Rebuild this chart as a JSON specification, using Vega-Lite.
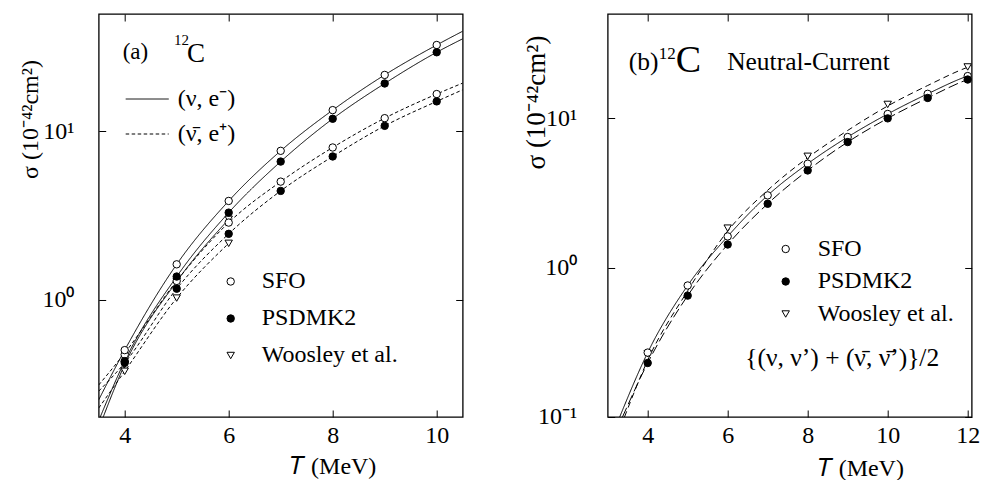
{
  "$schema": "https://vega.github.io/schema/vega-lite/v6.json",
  "padding": {"left": 17.7, "top": 12, "right": 5, "bottom": 0},
  "background": "white",
  "spacing": 145,
  "bounds": "flush",
  "resolve": {"scale": {"strokeDash": "independent", "shape": "independent", "fill": "independent", "stroke": "independent"}},
  "datasets": {
    "curvesA": [
      {"T": 3.5, "sigma": 0.253, "model": "SFO", "reaction": "(ν, e⁻)"},
      {"T": 4, "sigma": 0.50, "model": "SFO", "reaction": "(ν, e⁻)"},
      {"T": 5, "sigma": 1.62, "model": "SFO", "reaction": "(ν, e⁻)"},
      {"T": 6, "sigma": 3.86, "model": "SFO", "reaction": "(ν, e⁻)"},
      {"T": 7, "sigma": 7.67, "model": "SFO", "reaction": "(ν, e⁻)"},
      {"T": 8, "sigma": 13.4, "model": "SFO", "reaction": "(ν, e⁻)"},
      {"T": 9, "sigma": 21.7, "model": "SFO", "reaction": "(ν, e⁻)"},
      {"T": 10, "sigma": 32.7, "model": "SFO", "reaction": "(ν, e⁻)"},
      {"T": 10.5, "sigma": 39.5, "model": "SFO", "reaction": "(ν, e⁻)"},
      {"T": 3.5, "sigma": 0.19, "model": "PSDMK2", "reaction": "(ν, e⁻)"},
      {"T": 4, "sigma": 0.43, "model": "PSDMK2", "reaction": "(ν, e⁻)"},
      {"T": 5, "sigma": 1.37, "model": "PSDMK2", "reaction": "(ν, e⁻)"},
      {"T": 6, "sigma": 3.29, "model": "PSDMK2", "reaction": "(ν, e⁻)"},
      {"T": 7, "sigma": 6.62, "model": "PSDMK2", "reaction": "(ν, e⁻)"},
      {"T": 8, "sigma": 11.9, "model": "PSDMK2", "reaction": "(ν, e⁻)"},
      {"T": 9, "sigma": 19.3, "model": "PSDMK2", "reaction": "(ν, e⁻)"},
      {"T": 10, "sigma": 29.6, "model": "PSDMK2", "reaction": "(ν, e⁻)"},
      {"T": 10.5, "sigma": 35.6, "model": "PSDMK2", "reaction": "(ν, e⁻)"},
      {"T": 3.5, "sigma": 0.17, "model": "Woosley", "reaction": "(ν, e⁻)"},
      {"T": 4, "sigma": 0.41, "model": "Woosley", "reaction": "(ν, e⁻)"},
      {"T": 5, "sigma": 1.28, "model": "Woosley", "reaction": "(ν, e⁻)"},
      {"T": 6, "sigma": 3.0, "model": "Woosley", "reaction": "(ν, e⁻)"},
      {"T": 3.5, "sigma": 0.31, "model": "SFO", "reaction": "(ν̄, e⁺)"},
      {"T": 4, "sigma": 0.48, "model": "SFO", "reaction": "(ν̄, e⁺)"},
      {"T": 5, "sigma": 1.29, "model": "SFO", "reaction": "(ν̄, e⁺)"},
      {"T": 6, "sigma": 2.87, "model": "SFO", "reaction": "(ν̄, e⁺)"},
      {"T": 7, "sigma": 5.03, "model": "SFO", "reaction": "(ν̄, e⁺)"},
      {"T": 8, "sigma": 8.03, "model": "SFO", "reaction": "(ν̄, e⁺)"},
      {"T": 9, "sigma": 12.0, "model": "SFO", "reaction": "(ν̄, e⁺)"},
      {"T": 10, "sigma": 16.7, "model": "SFO", "reaction": "(ν̄, e⁺)"},
      {"T": 10.5, "sigma": 19.4, "model": "SFO", "reaction": "(ν̄, e⁺)"},
      {"T": 3.5, "sigma": 0.285, "model": "PSDMK2", "reaction": "(ν̄, e⁺)"},
      {"T": 4, "sigma": 0.42, "model": "PSDMK2", "reaction": "(ν̄, e⁺)"},
      {"T": 5, "sigma": 1.16, "model": "PSDMK2", "reaction": "(ν̄, e⁺)"},
      {"T": 6, "sigma": 2.46, "model": "PSDMK2", "reaction": "(ν̄, e⁺)"},
      {"T": 7, "sigma": 4.43, "model": "PSDMK2", "reaction": "(ν̄, e⁺)"},
      {"T": 8, "sigma": 7.10, "model": "PSDMK2", "reaction": "(ν̄, e⁺)"},
      {"T": 9, "sigma": 10.8, "model": "PSDMK2", "reaction": "(ν̄, e⁺)"},
      {"T": 10, "sigma": 15.1, "model": "PSDMK2", "reaction": "(ν̄, e⁺)"},
      {"T": 10.5, "sigma": 17.7, "model": "PSDMK2", "reaction": "(ν̄, e⁺)"},
      {"T": 3.5, "sigma": 0.226, "model": "Woosley", "reaction": "(ν̄, e⁺)"},
      {"T": 4, "sigma": 0.374, "model": "Woosley", "reaction": "(ν̄, e⁺)"},
      {"T": 5, "sigma": 1.02, "model": "Woosley", "reaction": "(ν̄, e⁺)"},
      {"T": 6, "sigma": 2.16, "model": "Woosley", "reaction": "(ν̄, e⁺)"}
    ],
    "pointsA": [
      {"T": 4, "sigma": 0.41, "model": "Woosley"},
      {"T": 5, "sigma": 1.28, "model": "Woosley"},
      {"T": 6, "sigma": 3.0, "model": "Woosley"},
      {"T": 4, "sigma": 0.374, "model": "Woosley"},
      {"T": 5, "sigma": 1.02, "model": "Woosley"},
      {"T": 6, "sigma": 2.16, "model": "Woosley"},
      {"T": 4, "sigma": 0.47, "model": "SFO"},
      {"T": 5, "sigma": 1.29, "model": "SFO"},
      {"T": 6, "sigma": 2.87, "model": "SFO"},
      {"T": 7, "sigma": 5.03, "model": "SFO"},
      {"T": 8, "sigma": 8.03, "model": "SFO"},
      {"T": 9, "sigma": 12.0, "model": "SFO"},
      {"T": 10, "sigma": 16.7, "model": "SFO"},
      {"T": 4, "sigma": 0.50, "model": "SFO"},
      {"T": 5, "sigma": 1.62, "model": "SFO"},
      {"T": 6, "sigma": 3.86, "model": "SFO"},
      {"T": 7, "sigma": 7.67, "model": "SFO"},
      {"T": 8, "sigma": 13.4, "model": "SFO"},
      {"T": 9, "sigma": 21.7, "model": "SFO"},
      {"T": 10, "sigma": 32.7, "model": "SFO"},
      {"T": 4, "sigma": 0.42, "model": "PSDMK2"},
      {"T": 5, "sigma": 1.16, "model": "PSDMK2"},
      {"T": 6, "sigma": 2.46, "model": "PSDMK2"},
      {"T": 7, "sigma": 4.43, "model": "PSDMK2"},
      {"T": 8, "sigma": 7.10, "model": "PSDMK2"},
      {"T": 9, "sigma": 10.8, "model": "PSDMK2"},
      {"T": 10, "sigma": 15.1, "model": "PSDMK2"},
      {"T": 4, "sigma": 0.43, "model": "PSDMK2"},
      {"T": 5, "sigma": 1.37, "model": "PSDMK2"},
      {"T": 6, "sigma": 3.29, "model": "PSDMK2"},
      {"T": 7, "sigma": 6.62, "model": "PSDMK2"},
      {"T": 8, "sigma": 11.9, "model": "PSDMK2"},
      {"T": 9, "sigma": 19.3, "model": "PSDMK2"},
      {"T": 10, "sigma": 29.6, "model": "PSDMK2"}
    ],
    "notesA": [
      {"T": 3.961, "sigma": 26.9, "label": "(a)", "kind": "main"},
      {"T": 4.947, "sigma": 32.6, "label": "12", "kind": "sup"},
      {"T": 5.196, "sigma": 25.8, "label": "C", "kind": "big"}
    ],
    "curvesB": [
      {"T": 3.3, "sigma": 0.1, "model": "SFO"},
      {"T": 4, "sigma": 0.27, "model": "SFO"},
      {"T": 5, "sigma": 0.76, "model": "SFO"},
      {"T": 6, "sigma": 1.62, "model": "SFO"},
      {"T": 7, "sigma": 3.05, "model": "SFO"},
      {"T": 8, "sigma": 4.97, "model": "SFO"},
      {"T": 9, "sigma": 7.5, "model": "SFO"},
      {"T": 10, "sigma": 10.7, "model": "SFO"},
      {"T": 11, "sigma": 14.6, "model": "SFO"},
      {"T": 12, "sigma": 19.2, "model": "SFO"},
      {"T": 12.1, "sigma": 19.6, "model": "SFO"},
      {"T": 3.37, "sigma": 0.1, "model": "PSDMK2"},
      {"T": 4, "sigma": 0.23, "model": "PSDMK2"},
      {"T": 5, "sigma": 0.65, "model": "PSDMK2"},
      {"T": 6, "sigma": 1.43, "model": "PSDMK2"},
      {"T": 7, "sigma": 2.68, "model": "PSDMK2"},
      {"T": 8, "sigma": 4.48, "model": "PSDMK2"},
      {"T": 9, "sigma": 6.94, "model": "PSDMK2"},
      {"T": 10, "sigma": 10.0, "model": "PSDMK2"},
      {"T": 11, "sigma": 13.7, "model": "PSDMK2"},
      {"T": 12, "sigma": 18.2, "model": "PSDMK2"},
      {"T": 12.1, "sigma": 18.6, "model": "PSDMK2"},
      {"T": 3.42, "sigma": 0.1, "model": "Woosley"},
      {"T": 4, "sigma": 0.24, "model": "Woosley"},
      {"T": 5, "sigma": 0.70, "model": "Woosley"},
      {"T": 6, "sigma": 1.76, "model": "Woosley"},
      {"T": 7, "sigma": 3.3, "model": "Woosley"},
      {"T": 8, "sigma": 5.45, "model": "Woosley"},
      {"T": 9, "sigma": 8.3, "model": "Woosley"},
      {"T": 10, "sigma": 12.1, "model": "Woosley"},
      {"T": 11, "sigma": 16.6, "model": "Woosley"},
      {"T": 12, "sigma": 22.0, "model": "Woosley"},
      {"T": 12.1, "sigma": 22.5, "model": "Woosley"}
    ],
    "pointsB": [
      {"T": 4, "sigma": 0.265, "model": "Woosley"},
      {"T": 6, "sigma": 1.84, "model": "Woosley"},
      {"T": 8, "sigma": 5.57, "model": "Woosley"},
      {"T": 10, "sigma": 12.4, "model": "Woosley"},
      {"T": 12, "sigma": 22.1, "model": "Woosley"},
      {"T": 4, "sigma": 0.27, "model": "SFO"},
      {"T": 5, "sigma": 0.76, "model": "SFO"},
      {"T": 6, "sigma": 1.62, "model": "SFO"},
      {"T": 7, "sigma": 3.05, "model": "SFO"},
      {"T": 8, "sigma": 4.97, "model": "SFO"},
      {"T": 9, "sigma": 7.5, "model": "SFO"},
      {"T": 10, "sigma": 10.7, "model": "SFO"},
      {"T": 11, "sigma": 14.6, "model": "SFO"},
      {"T": 12, "sigma": 19.2, "model": "SFO"},
      {"T": 4, "sigma": 0.23, "model": "PSDMK2"},
      {"T": 5, "sigma": 0.65, "model": "PSDMK2"},
      {"T": 6, "sigma": 1.43, "model": "PSDMK2"},
      {"T": 7, "sigma": 2.68, "model": "PSDMK2"},
      {"T": 8, "sigma": 4.48, "model": "PSDMK2"},
      {"T": 9, "sigma": 6.94, "model": "PSDMK2"},
      {"T": 10, "sigma": 10.0, "model": "PSDMK2"},
      {"T": 11, "sigma": 13.7, "model": "PSDMK2"},
      {"T": 12, "sigma": 18.2, "model": "PSDMK2"}
    ],
    "notesB": [
      {"T": 3.525, "sigma": 21.1, "label": "(b)", "kind": "main"},
      {"T": 4.276, "sigma": 25.0, "label": "12", "kind": "sup"},
      {"T": 4.70, "sigma": 20.5, "label": "C", "kind": "big"},
      {"T": 5.986, "sigma": 21.0, "label": "Neutral-Current", "kind": "main"},
      {"T": 6.44, "sigma": 0.22, "label": "{(ν, ν’) + (ν̄, ν̄’)}/2", "kind": "main"}
    ]
  },
  "hconcat": [
    {
      "width": 364,
      "height": 403,
      "layer": [
        {
          "data": {"name": "curvesA"},
          "mark": {"type": "line", "clip": true, "color": "black", "strokeWidth": 1, "interpolate": "monotone"},
          "encoding": {
            "x": {"field": "T", "type": "quantitative", "scale": {"domain": [3.5, 10.5], "nice": false, "zero": false},
                  "axis": {"orient": "bottom", "values": [4, 6, 8, 10], "title": "𝑇 (MeV)", "labelPadding": 14, "titleX": 234, "titleY": 57, "titleBaseline": "alphabetic", "titleAlign": "center"}},
            "y": {"field": "sigma", "type": "quantitative", "scale": {"type": "log", "domain": [0.2, 50], "nice": false},
                  "axis": {"orient": "left", "values": [1, 10], "labelExpr": "datum.value == 1 ? '10⁰' : datum.value == 10 ? '10¹' : '10⁻¹'", "labelPadding": 31.7, "title": "σ (10⁻⁴²cm²)", "titleX": -60.7, "titleY": 105, "titleBaseline": "alphabetic", "titleAlign": "center"}},
            "strokeDash": {"field": "reaction", "type": "nominal", "scale": {"domain": ["(ν, e⁻)", "(ν̄, e⁺)"], "range": [[1, 0], [3.5, 2.5]]},
                  "legend": {"orient": "none", "legendX": 26, "legendY": 62.5, "title": null, "symbolType": "stroke", "symbolSize": 1850, "symbolStrokeColor": "black", "symbolStrokeWidth": 1, "labelOffset": 8, "rowPadding": -8, "padding": 0, "labelFontSize": 24}},
            "detail": {"field": "model"}
          }
        },
        {
          "data": {"name": "pointsA"},
          "mark": {"type": "point", "filled": true, "strokeWidth": 1, "size": 55, "opacity": 1},
          "encoding": {
            "x": {"field": "T", "type": "quantitative", "axis": {"orient": "top", "values": [4, 6, 8, 10], "labels": false, "title": null}},
            "y": {"field": "sigma", "type": "quantitative", "axis": {"orient": "right", "values": [1, 10], "labels": false, "title": null}},
            "shape": {"field": "model", "type": "nominal", "scale": {"domain": ["SFO", "PSDMK2", "Woosley"], "range": ["circle", "circle", "triangle-down"]},
                  "legend": {"orient": "none", "legendX": 120, "legendY": 255.5, "title": null, "symbolSize": 55, "symbolStrokeWidth": 1, "labelOffset": 19, "rowPadding": 13, "padding": 0, "labelFontSize": 24,
                             "labelExpr": "datum.label == 'PSDMK2' ? '\u00a0PSDMK2' : datum.label == 'Woosley' ? 'Woosley et al.' : datum.label"}},
            "fill": {"field": "model", "type": "nominal", "scale": {"domain": ["SFO", "PSDMK2", "Woosley"], "range": ["white", "black", "white"]},
                  "legend": {"orient": "none", "legendX": 120, "legendY": 255.5, "title": null, "symbolSize": 55, "symbolStrokeWidth": 1, "labelOffset": 19, "rowPadding": 13, "padding": 0, "labelFontSize": 24,
                             "labelExpr": "datum.label == 'PSDMK2' ? '\u00a0PSDMK2' : datum.label == 'Woosley' ? 'Woosley et al.' : datum.label"}},
            "stroke": {"field": "model", "type": "nominal", "scale": {"domain": ["SFO", "PSDMK2", "Woosley"], "range": ["black", "black", "black"]},
                  "legend": {"orient": "none", "legendX": 120, "legendY": 255.5, "title": null, "symbolSize": 55, "symbolStrokeWidth": 1, "labelOffset": 19, "rowPadding": 13, "padding": 0, "labelFontSize": 24,
                             "labelExpr": "datum.label == 'PSDMK2' ? '\u00a0PSDMK2' : datum.label == 'Woosley' ? 'Woosley et al.' : datum.label"}}
          }
        },
        {
          "data": {"name": "notesA"},
          "transform": [{"filter": "datum.kind == 'main'"}],
          "mark": {"type": "text", "align": "left", "baseline": "alphabetic", "fontSize": 23, "font": "Liberation Serif", "color": "black"},
          "encoding": {"x": {"field": "T", "type": "quantitative", "axis": null}, "y": {"field": "sigma", "type": "quantitative", "axis": null}, "text": {"field": "label"}}
        },
        {
          "data": {"name": "notesA"},
          "transform": [{"filter": "datum.kind == 'sup'"}],
          "mark": {"type": "text", "align": "left", "baseline": "alphabetic", "fontSize": 15, "font": "Liberation Serif", "color": "black"},
          "encoding": {"x": {"field": "T", "type": "quantitative", "axis": null}, "y": {"field": "sigma", "type": "quantitative", "axis": null}, "text": {"field": "label"}}
        },
        {
          "data": {"name": "notesA"},
          "transform": [{"filter": "datum.kind == 'big'"}],
          "mark": {"type": "text", "align": "left", "baseline": "alphabetic", "fontSize": 27, "font": "Liberation Serif", "color": "black"},
          "encoding": {"x": {"field": "T", "type": "quantitative", "axis": null}, "y": {"field": "sigma", "type": "quantitative", "axis": null}, "text": {"field": "label"}}
        }
      ],
      "resolve": {"axis": {"x": "independent", "y": "independent"}}
    },
    {
      "width": 364,
      "height": 403,
      "layer": [
        {
          "data": {"name": "curvesB"},
          "mark": {"type": "line", "clip": true, "color": "black", "strokeWidth": 1, "interpolate": "monotone"},
          "encoding": {
            "x": {"field": "T", "type": "quantitative", "scale": {"domain": [3, 12.1], "nice": false, "zero": false},
                  "axis": {"orient": "bottom", "values": [4, 6, 8, 10, 12], "title": "𝑇 (MeV)", "labelPadding": 14, "titleX": 252.6, "titleY": 59, "titleBaseline": "alphabetic", "titleAlign": "center"}},
            "y": {"field": "sigma", "type": "quantitative", "scale": {"type": "log", "domain": [0.1, 50], "nice": false},
                  "axis": {"orient": "left", "values": [0.1, 1, 10], "labelExpr": "datum.value == 1 ? '10⁰' : datum.value == 10 ? '10¹' : '10⁻¹'", "labelPadding": 38, "title": "σ (10⁻⁴²cm²)", "titleX": -62.7, "titleY": 88, "titleBaseline": "alphabetic", "titleAlign": "center", "titleFontSize": 27}},
            "strokeDash": {"field": "model", "type": "nominal", "scale": {"domain": ["PSDMK2", "SFO", "Woosley"], "range": [[10, 4], [1, 0], [6, 4]]}, "legend": null}
          }
        },
        {
          "data": {"name": "pointsB"},
          "mark": {"type": "point", "filled": true, "strokeWidth": 1, "size": 55, "opacity": 1},
          "encoding": {
            "x": {"field": "T", "type": "quantitative", "axis": {"orient": "top", "values": [4, 6, 8, 10, 12], "labels": false, "title": null}},
            "y": {"field": "sigma", "type": "quantitative", "axis": {"orient": "right", "values": [0.1, 1, 10], "labels": false, "title": null}},
            "shape": {"field": "model", "type": "nominal", "scale": {"domain": ["SFO", "PSDMK2", "Woosley"], "range": ["circle", "circle", "triangle-down"]},
                  "legend": {"orient": "none", "legendX": 166, "legendY": 223, "title": null, "symbolSize": 55, "symbolStrokeWidth": 1, "labelOffset": 20, "rowPadding": 8.5, "padding": 0, "labelFontSize": 24,
                             "labelExpr": "datum.label == 'SFO' ? '\u00a0SFO' : datum.label == 'Woosley' ? '\u00a0Woosley et al.' : datum.label"}},
            "fill": {"field": "model", "type": "nominal", "scale": {"domain": ["SFO", "PSDMK2", "Woosley"], "range": ["white", "black", "white"]},
                  "legend": {"orient": "none", "legendX": 166, "legendY": 223, "title": null, "symbolSize": 55, "symbolStrokeWidth": 1, "labelOffset": 20, "rowPadding": 8.5, "padding": 0, "labelFontSize": 24,
                             "labelExpr": "datum.label == 'SFO' ? '\u00a0SFO' : datum.label == 'Woosley' ? '\u00a0Woosley et al.' : datum.label"}},
            "stroke": {"field": "model", "type": "nominal", "scale": {"domain": ["SFO", "PSDMK2", "Woosley"], "range": ["black", "black", "black"]},
                  "legend": {"orient": "none", "legendX": 166, "legendY": 223, "title": null, "symbolSize": 55, "symbolStrokeWidth": 1, "labelOffset": 20, "rowPadding": 8.5, "padding": 0, "labelFontSize": 24,
                             "labelExpr": "datum.label == 'SFO' ? '\u00a0SFO' : datum.label == 'Woosley' ? '\u00a0Woosley et al.' : datum.label"}}
          }
        },
        {
          "data": {"name": "notesB"},
          "transform": [{"filter": "datum.kind == 'main'"}],
          "mark": {"type": "text", "align": "left", "baseline": "alphabetic", "fontSize": 25.5, "font": "Liberation Serif", "color": "black"},
          "encoding": {"x": {"field": "T", "type": "quantitative", "axis": null}, "y": {"field": "sigma", "type": "quantitative", "axis": null}, "text": {"field": "label"}}
        },
        {
          "data": {"name": "notesB"},
          "transform": [{"filter": "datum.kind == 'sup'"}],
          "mark": {"type": "text", "align": "left", "baseline": "alphabetic", "fontSize": 17, "font": "Liberation Serif", "color": "black"},
          "encoding": {"x": {"field": "T", "type": "quantitative", "axis": null}, "y": {"field": "sigma", "type": "quantitative", "axis": null}, "text": {"field": "label"}}
        },
        {
          "data": {"name": "notesB"},
          "transform": [{"filter": "datum.kind == 'big'"}],
          "mark": {"type": "text", "align": "left", "baseline": "alphabetic", "fontSize": 38, "font": "Liberation Serif", "color": "black"},
          "encoding": {"x": {"field": "T", "type": "quantitative", "axis": null}, "y": {"field": "sigma", "type": "quantitative", "axis": null}, "text": {"field": "label"}}
        }
      ],
      "resolve": {"axis": {"x": "independent", "y": "independent"}}
    }
  ],
  "config": {
    "view": {"stroke": "black", "strokeWidth": 1.3},
    "font": "Liberation Serif",
    "axis": {"domain": false, "grid": false, "ticks": true, "tickColor": "black", "tickSize": -7, "tickWidth": 1,
             "labelFont": "Liberation Serif", "labelFontSize": 24, "labelColor": "black",
             "titleFont": "Liberation Serif", "titleFontSize": 24, "titleFontWeight": "normal", "titleColor": "black"},
    "legend": {"labelFont": "Liberation Serif", "labelFontSize": 24, "labelColor": "black"},
    "text": {"font": "Liberation Serif", "color": "black"}
  }
}
